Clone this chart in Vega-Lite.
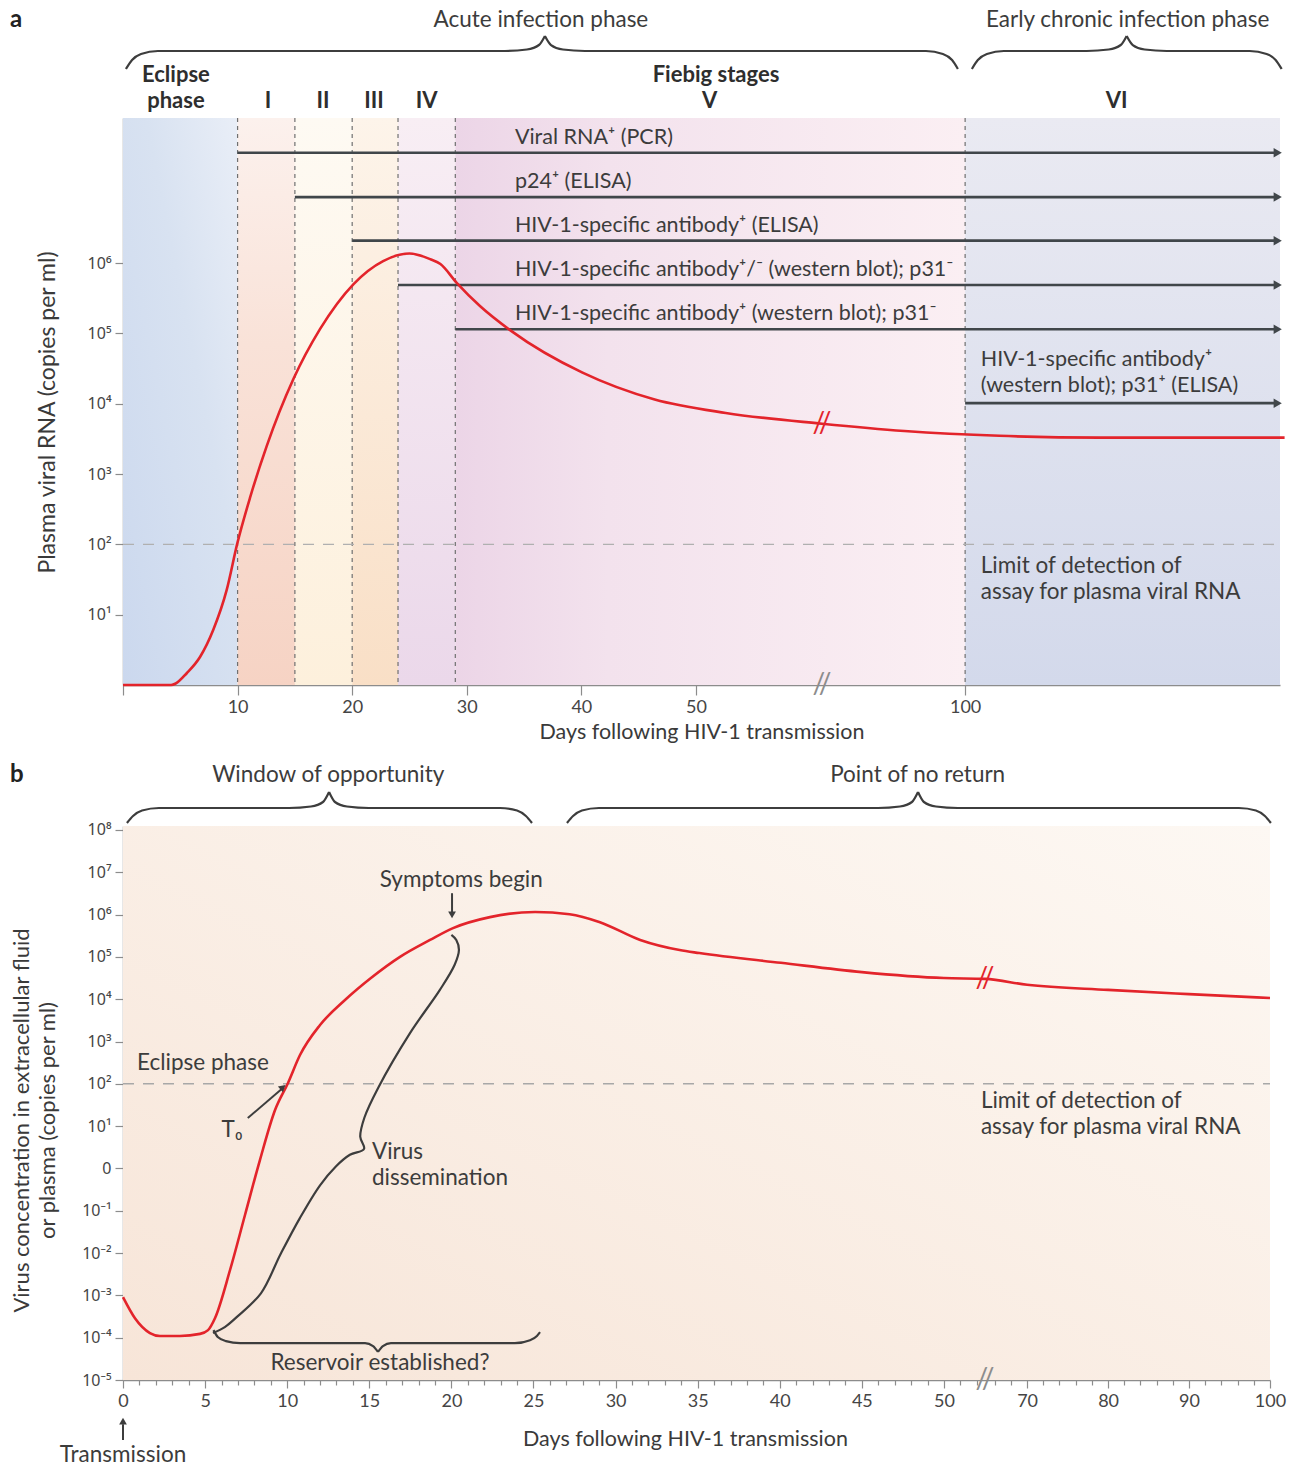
{
"$schema": "https://vega.github.io/schema/vega-lite/v6.json",
"background": "white",
"padding": {"left": 10, "top": 5, "right": 5, "bottom": 0},
"spacing": 0,
"bounds": "flush",
"resolve": {"scale": {"x": "independent", "y": "independent"}},
"config": {
  "view": {"stroke": null},
  "font": "Lato",
  "axis": {"grid": false, "domainColor": "#8c8c8c", "tickColor": "#8c8c8c", "labelColor": "#454545", "titleColor": "#3a3a3a", "labelFont": "Lato", "titleFont": "Lato", "titleFontWeight": "normal", "labelFontSize": 18, "titleFontSize": 21.5, "domainWidth": 1.4, "tickWidth": 1.2, "labelFlush": false},
  "text": {"font": "Lato", "color": "#3c3c3c", "fontSize": 22}
},
"datasets": {
  "bandsA": [{"b":"E","x":0,"x2":10},{"b":"I","x":10,"x2":15},{"b":"II","x":15,"x2":20},{"b":"III","x":20,"x2":24},{"b":"IV","x":24,"x2":29},{"b":"V","x":29,"x2":100},{"b":"VI","x":100,"x2":127.5}],
  "vlinesA": [{"x":10},{"x":15},{"x":20},{"x":24},{"x":29},{"x":100}],
  "detA": [{"d":0,"d2":127.5,"v":100}],
  "arrowsA": [
    {"x":10,"x2":127.3,"v":3.72e7,"lx":34.2,"ml":0,"t":"Viral RNA⁺ (PCR)"},
    {"x":15,"x2":127.3,"v":8.7e6,"lx":34.2,"ml":0,"t":"p24⁺ (ELISA)"},
    {"x":20,"x2":127.3,"v":2.09e6,"lx":34.2,"ml":0,"t":"HIV-1-specific antibody⁺ (ELISA)"},
    {"x":24,"x2":127.3,"v":4.9e5,"lx":34.2,"ml":0,"t":"HIV-1-specific antibody⁺/⁻ (western blot); p31⁻"},
    {"x":29,"x2":127.3,"v":1.15e5,"lx":34.2,"ml":0,"t":"HIV-1-specific antibody⁺ (western blot); p31⁻"},
    {"x":100,"x2":127.3,"v":1.02e4,"lx":101.37,"ml":1,"t":"HIV-1-specific antibody⁺\n(western blot); p31⁺ (ELISA)"}
  ],
  "curveA": [
    {"d":0,"v":1},{"d":4.2,"v":1},{"d":4.6,"v":1.05},{"d":5.56,"v":1.47},{"d":6.72,"v":2.5},{"d":7.88,"v":6.1},{"d":9.05,"v":22.5},{"d":9.98,"v":104},{"d":11.08,"v":458},{"d":12.54,"v":2500},{"d":14.86,"v":22300},{"d":17.19,"v":115000},{"d":20.1,"v":500000},{"d":22.7,"v":1070000},{"d":25.0,"v":1370000},{"d":26.8,"v":1140000},{"d":27.7,"v":970000},{"d":29.1,"v":530000},{"d":31.15,"v":246000},{"d":33.9,"v":108000},{"d":40.1,"v":27700},{"d":46.4,"v":11500},{"d":52.6,"v":7400},{"d":61,"v":5200},{"d":87.5,"v":5200},{"d":94.7,"v":4100},{"d":103.0,"v":3500},{"d":111.8,"v":3300},{"d":127.9,"v":3300}
  ],
  "breaksA": [{"d":61,"v":5200,"k":"c"},{"d":61,"v":1,"k":"a"}],
  "limitA": [{"d":101.37,"v":49.3,"t":"Limit of detection of\nassay for plasma viral RNA"}],
  "bracesA": [
    {"k":"A1L","x":0.26,"h":43.4},{"k":"A1L","x":0.79,"h":51.3},{"k":"A1L","x":1.57,"h":56.6},{"k":"A1L","x":3.05,"h":59.3},{"k":"A1L","x":33.33,"h":59.3},{"k":"A1L","x":35.25,"h":60.6},{"k":"A1L","x":36.3,"h":64.6},{"k":"A1L","x":36.82,"h":72.6},
    {"k":"A1R","x":36.82,"h":72.6},{"k":"A1R","x":37.35,"h":64.6},{"k":"A1R","x":38.39,"h":60.6},{"k":"A1R","x":40.31,"h":59.3},{"k":"A1R","x":96.58,"h":59.3},{"k":"A1R","x":98.06,"h":56.6},{"k":"A1R","x":98.86,"h":51.3},{"k":"A1R","x":99.37,"h":43.4},
    {"k":"A2L","x":100.59,"h":43.4},{"k":"A2L","x":101.11,"h":51.3},{"k":"A2L","x":101.9,"h":56.6},{"k":"A2L","x":103.38,"h":59.3},{"k":"A2L","x":110.62,"h":59.3},{"k":"A2L","x":112.54,"h":60.6},{"k":"A2L","x":113.59,"h":64.6},{"k":"A2L","x":114.11,"h":72.6},
    {"k":"A2R","x":114.11,"h":72.6},{"k":"A2R","x":114.64,"h":64.6},{"k":"A2R","x":115.68,"h":60.6},{"k":"A2R","x":117.6,"h":59.3},{"k":"A2R","x":124.85,"h":59.3},{"k":"A2R","x":126.33,"h":56.6},{"k":"A2R","x":127.12,"h":51.3},{"k":"A2R","x":127.64,"h":43.4}
  ],
  "textA": [
    {"t":"Acute infection phase","x":36.47,"h":86.7,"w":"n"},
    {"t":"Early chronic infection phase","x":114.2,"h":86.7,"w":"n"},
    {"t":"Eclipse\nphase","x":4.62,"h":38.1,"w":"b"},
    {"t":"I","x":12.65,"h":15,"w":"b"},
    {"t":"II","x":17.45,"h":15,"w":"b"},
    {"t":"III","x":21.9,"h":15,"w":"b"},
    {"t":"IV","x":26.5,"h":15,"w":"b"},
    {"t":"Fiebig stages","x":51.75,"h":38.1,"w":"b"},
    {"t":"V","x":51.2,"h":15,"w":"b"},
    {"t":"VI","x":113.24,"h":15,"w":"b"},
    {"t":"a","x":-9.86,"h":86.7,"w":"L"}
  ],
  "bracesB": [
    {"k":"B1L","x":0.24,"h":2.13},{"k":"B1L","x":0.61,"h":7.09},{"k":"B1L","x":1.16,"h":10.99},{"k":"B1L","x":2.19,"h":12.77},{"k":"B1L","x":10.11,"h":12.77},{"k":"B1L","x":11.45,"h":13.83},{"k":"B1L","x":12.18,"h":17.02},{"k":"B1L","x":12.55,"h":24.11},
    {"k":"B1R","x":12.55,"h":24.11},{"k":"B1R","x":12.91,"h":17.02},{"k":"B1R","x":13.64,"h":13.83},{"k":"B1R","x":14.98,"h":12.77},{"k":"B1R","x":22.96,"h":12.77},{"k":"B1R","x":24.0,"h":10.99},{"k":"B1R","x":24.54,"h":7.09},{"k":"B1R","x":24.91,"h":2.13},
    {"k":"B2L","x":27.04,"h":2.13},{"k":"B2L","x":27.41,"h":7.09},{"k":"B2L","x":27.95,"h":10.99},{"k":"B2L","x":28.99,"h":12.77},{"k":"B2L","x":45.98,"h":12.77},{"k":"B2L","x":47.32,"h":13.83},{"k":"B2L","x":48.05,"h":17.02},{"k":"B2L","x":48.42,"h":24.11},
    {"k":"B2R","x":48.42,"h":24.11},{"k":"B2R","x":48.78,"h":17.02},{"k":"B2R","x":49.51,"h":13.83},{"k":"B2R","x":50.85,"h":12.77},{"k":"B2R","x":96.16,"h":12.77},{"k":"B2R","x":98.26,"h":10.99},{"k":"B2R","x":99.37,"h":7.09},{"k":"B2R","x":100.11,"h":2.13}
  ],
  "textB": [
    {"t":"Window of opportunity","x":12.5,"h":36.17,"w":"n"},
    {"t":"Point of no return","x":48.4,"h":36.17,"w":"n"},
    {"t":"b","x":-6.88,"h":36.17,"w":"L"}
  ],
  "bgB": [{"d":0,"d2":100}],
  "detB": [{"d":0,"d2":100,"v":100}],
  "curveB": [
    {"d":0,"v":9.1e-4},{"d":0.73,"v":2.88e-4},{"d":1.64,"v":1.29e-4},{"d":2.25,"v":1.1e-4},{"d":3.47,"v":1.1e-4},{"d":4.69,"v":1.23e-4},{"d":5.18,"v":1.51e-4},{"d":5.6,"v":2.88e-4},{"d":6.52,"v":3.98e-3},{"d":7.43,"v":0.0794},{"d":8.34,"v":1.58},{"d":9.26,"v":24},{"d":10.05,"v":105},{"d":10.78,"v":479},{"d":12.0,"v":2455},{"d":13.52,"v":9550},{"d":15.1,"v":31600},{"d":16.87,"v":100000},{"d":18.7,"v":251000},{"d":20.1,"v":479000},{"d":22.35,"v":871000},{"d":25.1,"v":1150000},{"d":27.2,"v":1020000},{"d":29.05,"v":661000},{"d":31.5,"v":251000},{"d":33.9,"v":145000},{"d":35.1,"v":123000},{"d":40.07,"v":72400},{"d":45.0,"v":43700},{"d":50,"v":31600},{"d":52.5,"v":30200},{"d":64.8,"v":30200},{"d":70,"v":21900},{"d":80,"v":16600},{"d":90,"v":13200},{"d":100,"v":10700}
  ],
  "dissB": [
    {"i":1,"d":5.48,"v":1.29e-4},{"i":2,"d":6.2,"v":1.78e-4},{"i":3,"d":6.94,"v":3.1e-4},{"i":4,"d":8.4,"v":1.12e-3},{"i":5,"d":9.6,"v":0.0095},{"i":6,"d":10.78,"v":0.068},{"i":7,"d":12.0,"v":0.4},{"i":8,"d":12.95,"v":1.1},{"i":9,"d":13.82,"v":2.1},{"i":10,"d":14.68,"v":2.9},{"i":11,"d":14.45,"v":5.6},{"i":12,"d":14.7,"v":15.8},{"i":13,"d":15.53,"v":79},{"i":14,"d":17.48,"v":1580},{"i":15,"d":19.3,"v":16600},{"i":16,"d":20.2,"v":65000},{"i":17,"d":20.46,"v":145000},{"i":18,"d":20.3,"v":251000},{"i":19,"d":20.0,"v":331000}
  ],
  "resB": [
    {"k":"L","d":5.51,"v":1.51e-4},{"k":"L","d":5.79,"v":1.02e-4},{"k":"L","d":6.27,"v":8.3e-5},{"k":"L","d":7.13,"v":7.4e-5},{"k":"L","d":14.74,"v":7.4e-5},{"k":"L","d":15.23,"v":6.3e-5},{"k":"L","d":15.53,"v":4.6e-5},
    {"k":"R","d":15.53,"v":4.6e-5},{"k":"R","d":15.83,"v":6.3e-5},{"k":"R","d":16.32,"v":7.4e-5},{"k":"R","d":23.87,"v":7.4e-5},{"k":"R","d":24.79,"v":8.7e-5},{"k":"R","d":25.21,"v":1.1e-4},{"k":"R","d":25.4,"v":1.35e-4}
  ],
  "arrB": [
    {"d":20.04,"v":3.2e6,"d2":20.04,"v2":1.15e6},
    {"d":7.6,"v":15.5,"d2":9.7,"v2":78},
    {"d":0,"v":3.8e-7,"d2":0,"v2":9e-7}
  ],
  "headsB": [
    {"d":20.04,"v":9.8e5,"s":"triangle-down","a":0},
    {"d":9.74,"v":83,"s":"triangle-up","a":49},
    {"d":0,"v":1.07e-6,"s":"triangle-up","a":0}
  ],
  "labelsB": [
    {"t":"Symptoms begin","d":20.6,"v":6.6e6,"al":"c"},
    {"t":"Eclipse phase","d":4.87,"v":309,"al":"c"},
    {"t":"T₀","d":6.64,"v":8.1,"al":"c"},
    {"t":"Reservoir established?","d":15.65,"v":2.5e-5,"al":"c"},
    {"t":"Transmission","d":0,"v":1.66e-7,"al":"c"},
    {"t":"Virus\ndissemination","d":15.16,"v":2.44,"al":"l"},
    {"t":"Limit of detection of\nassay for plasma viral RNA","d":52.25,"v":39.2,"al":"l"}
  ],
  "breaksB": [{"d":52.5,"v":30200,"k":"c"},{"d":52.5,"v":1e-5,"k":"a"}]
},
"vconcat": [
  {
    "width": 1157, "height": 113,
    "layer": [
      {"data": {"name": "bracesA"}, "mark": {"type": "line", "interpolate": "monotone", "color": "#3d3d3d", "strokeWidth": 2.2},
       "encoding": {"x": {"field": "x", "type": "quantitative", "scale": {"domain": [0, 61, 87.5, 127.5], "range": [0, 699, 699, 1157], "nice": false, "zero": false}, "axis": null},
                    "y": {"field": "h", "type": "quantitative", "scale": {"domain": [0, 100], "nice": false, "zero": false}, "axis": null},
                    "detail": {"field": "k"}}},
      {"data": {"name": "textA"}, "transform": [{"filter": "datum.w == 'n'"}], "mark": {"type": "text", "fontSize": 22.5, "baseline": "middle", "color": "#3c3c3c"},
       "encoding": {"x": {"field": "x", "type": "quantitative", "axis": null}, "y": {"field": "h", "type": "quantitative", "axis": null}, "text": {"field": "t"}}},
      {"data": {"name": "textA"}, "transform": [{"filter": "datum.w == 'b'"}], "mark": {"type": "text", "fontSize": 22, "fontWeight": "bold", "baseline": "middle", "lineBreak": "\n", "lineHeight": 26, "color": "#2e2e2e"},
       "encoding": {"x": {"field": "x", "type": "quantitative", "axis": null}, "y": {"field": "h", "type": "quantitative", "axis": null}, "text": {"field": "t"}}},
      {"data": {"name": "textA"}, "transform": [{"filter": "datum.w == 'L'"}], "mark": {"type": "text", "fontSize": 24, "fontWeight": "bold", "align": "left", "baseline": "middle", "color": "#222222"},
       "encoding": {"x": {"field": "x", "type": "quantitative", "axis": null}, "y": {"field": "h", "type": "quantitative", "axis": null}, "text": {"field": "t"}}}
    ]
  },
  {
    "width": 1157, "height": 567,
    "resolve": {"axis": {"x": "independent", "y": "independent"}},
    "layer": [
      {"data": {"name": "bandsA"}, "transform": [{"filter": "datum.b == 'E'"}], "mark": {"type": "rect", "fill": {"gradient": "linear", "x1": 0, "y1": 1, "x2": 1, "y2": 0, "stops": [{"offset": 0, "color": "#cbd8ee"}, {"offset": 0.6, "color": "#d8e2f1"}, {"offset": 1, "color": "#e9eef7"}]}},
       "encoding": {"x": {"field": "x", "type": "quantitative", "scale": {"domain": [0, 61, 87.5, 127.5], "range": [0, 699, 699, 1157], "nice": false, "zero": false}, "axis": null}, "x2": {"field": "x2"}}},
      {"data": {"name": "bandsA"}, "transform": [{"filter": "datum.b == 'I'"}], "mark": {"type": "rect", "fill": {"gradient": "linear", "x1": 0, "y1": 0, "x2": 0, "y2": 1, "stops": [{"offset": 0, "color": "#fcf1ed"}, {"offset": 0.4, "color": "#f9e2d8"}, {"offset": 1, "color": "#f6d3c4"}]}},
       "encoding": {"x": {"field": "x", "type": "quantitative", "axis": null}, "x2": {"field": "x2"}}},
      {"data": {"name": "bandsA"}, "transform": [{"filter": "datum.b == 'II'"}], "mark": {"type": "rect", "fill": {"gradient": "linear", "x1": 0, "y1": 0, "x2": 0, "y2": 1, "stops": [{"offset": 0, "color": "#fefaf3"}, {"offset": 1, "color": "#fdf0dc"}]}},
       "encoding": {"x": {"field": "x", "type": "quantitative", "axis": null}, "x2": {"field": "x2"}}},
      {"data": {"name": "bandsA"}, "transform": [{"filter": "datum.b == 'III'"}], "mark": {"type": "rect", "fill": {"gradient": "linear", "x1": 0, "y1": 0, "x2": 0, "y2": 1, "stops": [{"offset": 0, "color": "#fdf4ea"}, {"offset": 1, "color": "#f9dfc6"}]}},
       "encoding": {"x": {"field": "x", "type": "quantitative", "axis": null}, "x2": {"field": "x2"}}},
      {"data": {"name": "bandsA"}, "transform": [{"filter": "datum.b == 'IV'"}], "mark": {"type": "rect", "fill": {"gradient": "linear", "x1": 0, "y1": 0, "x2": 0, "y2": 1, "stops": [{"offset": 0, "color": "#f8eef4"}, {"offset": 1, "color": "#ebd8ea"}]}},
       "encoding": {"x": {"field": "x", "type": "quantitative", "axis": null}, "x2": {"field": "x2"}}},
      {"data": {"name": "bandsA"}, "transform": [{"filter": "datum.b == 'V'"}], "mark": {"type": "rect", "fill": {"gradient": "linear", "x1": 0, "y1": 0, "x2": 1, "y2": 0, "stops": [{"offset": 0, "color": "#ecd5e7"}, {"offset": 0.3, "color": "#f3e2ed"}, {"offset": 1, "color": "#fbeff3"}]}},
       "encoding": {"x": {"field": "x", "type": "quantitative", "axis": null}, "x2": {"field": "x2"}}},
      {"data": {"name": "bandsA"}, "transform": [{"filter": "datum.b == 'VI'"}], "mark": {"type": "rect", "fill": {"gradient": "linear", "x1": 0, "y1": 0, "x2": 0, "y2": 1, "stops": [{"offset": 0, "color": "#eaeaf2"}, {"offset": 1, "color": "#d3d9eb"}]}},
       "encoding": {"x": {"field": "x", "type": "quantitative", "axis": null}, "x2": {"field": "x2"}}},
      {"data": {"name": "vlinesA"}, "mark": {"type": "rule", "color": "#707070", "strokeDash": [4, 4], "strokeWidth": 1.2},
       "encoding": {"x": {"field": "x", "type": "quantitative", "axis": null}}},
      {"data": {"name": "detA"}, "mark": {"type": "rule", "color": "#b0b0b0", "strokeDash": [11, 9], "strokeWidth": 1.4},
       "encoding": {"x": {"field": "d", "type": "quantitative", "axis": null}, "x2": {"field": "d2"}, "y": {"field": "v", "type": "quantitative", "axis": null}}},
      {"data": {"name": "arrowsA"}, "mark": {"type": "rule", "color": "#40464a", "strokeWidth": 2.6},
       "encoding": {"x": {"field": "x", "type": "quantitative", "axis": null}, "x2": {"field": "x2"}, "y": {"field": "v", "type": "quantitative", "axis": null}}},
      {"data": {"name": "arrowsA"}, "mark": {"type": "point", "shape": "triangle-right", "filled": true, "size": 90, "color": "#40464a", "opacity": 1},
       "encoding": {"x": {"field": "x2", "type": "quantitative", "axis": null}, "y": {"field": "v", "type": "quantitative", "axis": null}}},
      {"data": {"name": "arrowsA"}, "transform": [{"filter": "datum.ml == 0"}], "mark": {"type": "text", "align": "left", "baseline": "bottom", "dy": -4, "fontSize": 21.5, "color": "#3c3c3c"},
       "encoding": {"x": {"field": "lx", "type": "quantitative", "axis": null}, "y": {"field": "v", "type": "quantitative", "axis": null}, "text": {"field": "t"}}},
      {"data": {"name": "arrowsA"}, "transform": [{"filter": "datum.ml == 1"}], "mark": {"type": "text", "align": "left", "baseline": "bottom", "dy": -32, "fontSize": 21.5, "lineBreak": "\n", "lineHeight": 26, "color": "#3c3c3c"},
       "encoding": {"x": {"field": "lx", "type": "quantitative", "axis": null}, "y": {"field": "v", "type": "quantitative", "axis": null}, "text": {"field": "t"}}},
      {"data": {"name": "limitA"}, "mark": {"type": "text", "align": "left", "baseline": "middle", "fontSize": 22.5, "lineBreak": "\n", "lineHeight": 26, "color": "#3c3c3c"},
       "encoding": {"x": {"field": "d", "type": "quantitative", "axis": null}, "y": {"field": "v", "type": "quantitative", "axis": null}, "text": {"field": "t"}}},
      {"data": {"name": "curveA"}, "mark": {"type": "line", "interpolate": "monotone", "color": "#e3242b", "strokeWidth": 2.6},
       "encoding": {
         "x": {"field": "d", "type": "quantitative", "scale": {"domain": [0, 61, 87.5, 127.5], "range": [0, 699, 699, 1157], "nice": false, "zero": false},
               "axis": {"orient": "bottom", "values": [0, 10, 20, 30, 40, 50, 100], "labelExpr": "datum.value == 0 ? '' : datum.label", "title": "Days following HIV-1 transmission", "tickSize": 10, "labelPadding": 3, "titlePadding": 5}},
         "y": {"field": "v", "type": "quantitative", "scale": {"type": "log", "domain": [1, 1.16e8], "nice": false},
               "axis": {"orient": "left", "values": [10, 100, 1000, 10000, 100000, 1000000], "labelFont": "Noto Sans", "labelFontSize": 16, "labelExpr": "'10' + ['⁰','¹','²','³','⁴','⁵','⁶'][round(log(datum.value)/LN10)]", "title": "Plasma viral RNA (copies per ml)", "titleFontSize": 23, "tickSize": 8, "labelPadding": 4, "titleX": -76, "titleY": 294, "titleAngle": -90, "titleAlign": "center", "titleBaseline": "middle"}}
       }},
      {"data": {"name": "breaksA"}, "transform": [{"filter": "datum.k == 'c'"}], "mark": {"type": "text", "text": "//", "fontSize": 28, "color": "#e3242b", "baseline": "middle"},
       "encoding": {"x": {"field": "d", "type": "quantitative", "axis": null}, "y": {"field": "v", "type": "quantitative", "axis": null}}},
      {"data": {"name": "breaksA"}, "transform": [{"filter": "datum.k == 'a'"}], "mark": {"type": "text", "text": "//", "fontSize": 28, "color": "#8c8c8c", "baseline": "middle"},
       "encoding": {"x": {"field": "d", "type": "quantitative", "axis": null}, "y": {"field": "v", "type": "quantitative", "axis": null}}}
    ]
  },
  {
    "width": 1147, "height": 141,
    "layer": [
      {"data": {"name": "bracesB"}, "mark": {"type": "line", "interpolate": "monotone", "color": "#3d3d3d", "strokeWidth": 2.2},
       "encoding": {"x": {"field": "x", "type": "quantitative", "scale": {"domain": [0, 52.5, 64.8, 100], "range": [0, 862, 862, 1147], "nice": false, "zero": false}, "axis": null},
                    "y": {"field": "h", "type": "quantitative", "scale": {"domain": [0, 100], "nice": false, "zero": false}, "axis": null},
                    "detail": {"field": "k"}}},
      {"data": {"name": "textB"}, "transform": [{"filter": "datum.w == 'n'"}], "mark": {"type": "text", "fontSize": 22.5, "baseline": "middle", "color": "#3c3c3c"},
       "encoding": {"x": {"field": "x", "type": "quantitative", "axis": null}, "y": {"field": "h", "type": "quantitative", "axis": null}, "text": {"field": "t"}}},
      {"data": {"name": "textB"}, "transform": [{"filter": "datum.w == 'L'"}], "mark": {"type": "text", "fontSize": 24, "fontWeight": "bold", "align": "left", "baseline": "middle", "color": "#222222"},
       "encoding": {"x": {"field": "x", "type": "quantitative", "axis": null}, "y": {"field": "h", "type": "quantitative", "axis": null}, "text": {"field": "t"}}}
    ]
  },
  {
    "width": 1147, "height": 554,
    "resolve": {"axis": {"x": "independent", "y": "independent"}},
    "layer": [
      {"data": {"name": "bgB"}, "mark": {"type": "rect", "fill": {"gradient": "linear", "x1": 0, "y1": 1, "x2": 1, "y2": 0, "stops": [{"offset": 0, "color": "#f7e5d8"}, {"offset": 1, "color": "#fdf8f3"}]}},
       "encoding": {"x": {"field": "d", "type": "quantitative", "scale": {"domain": [0, 52.5, 64.8, 100], "range": [0, 862, 862, 1147], "nice": false, "zero": false},
                          "axis": {"orient": "bottom", "values": [1,2,3,4,6,7,8,9,11,12,13,14,16,17,18,19,21,22,23,24,26,27,28,29,31,32,33,34,36,37,38,39,41,42,43,44,46,47,48,49,51,52,66,68,72,74,76,78,82,84,86,88,92,94,96,98], "labels": false, "domain": false, "tickSize": 5, "title": null}},
                    "x2": {"field": "d2"}}},
      {"data": {"name": "detB"}, "mark": {"type": "rule", "color": "#a8a8a8", "strokeDash": [11, 9], "strokeWidth": 1.4},
       "encoding": {"x": {"field": "d", "type": "quantitative", "axis": null}, "x2": {"field": "d2"}, "y": {"field": "v", "type": "quantitative", "axis": null}}},
      {"data": {"name": "resB"}, "mark": {"type": "line", "interpolate": "monotone", "color": "#3d3d3d", "strokeWidth": 2.2},
       "encoding": {"x": {"field": "d", "type": "quantitative", "axis": null}, "y": {"field": "v", "type": "quantitative", "axis": null}, "detail": {"field": "k"}}},
      {"data": {"name": "dissB"}, "mark": {"type": "line", "interpolate": "catmull-rom", "color": "#3d3d3d", "strokeWidth": 2.2},
       "encoding": {"x": {"field": "d", "type": "quantitative", "axis": null}, "y": {"field": "v", "type": "quantitative", "axis": null}, "order": {"field": "i", "type": "quantitative"}}},
      {"data": {"name": "curveB"}, "mark": {"type": "line", "interpolate": "monotone", "color": "#e3242b", "strokeWidth": 2.6},
       "encoding": {
         "x": {"field": "d", "type": "quantitative", "scale": {"domain": [0, 52.5, 64.8, 100], "range": [0, 862, 862, 1147], "nice": false, "zero": false},
               "axis": {"orient": "bottom", "values": [0, 5, 10, 15, 20, 25, 30, 35, 40, 45, 50, 70, 80, 90, 100], "title": "Days following HIV-1 transmission", "tickSize": 8, "labelPadding": 4, "titlePadding": 18, "titleX": 562}},
         "y": {"field": "v", "type": "quantitative", "scale": {"type": "log", "domain": [1e-5, 1.24e8], "nice": false},
               "axis": {"orient": "left", "values": [1e-5, 1e-4, 1e-3, 1e-2, 1e-1, 1, 10, 100, 1000, 10000, 100000, 1000000, 10000000, 100000000], "labelFont": "Noto Sans", "labelFontSize": 16, "labelExpr": "datum.value == 1 ? '0' : '10' + ['⁻⁵','⁻⁴','⁻³','⁻²','⁻¹','','¹','²','³','⁴','⁵','⁶','⁷','⁸'][round(log(datum.value)/LN10) + 5]", "title": ["Virus concentration in extracellular fluid", "or plasma (copies per ml)"], "titleFontSize": 22, "titleLineHeight": 26, "tickSize": 8, "labelPadding": 4, "titleX": -102, "titleY": 294, "titleAngle": -90, "titleAlign": "center", "titleBaseline": "middle"}}
       }},
      {"data": {"name": "arrB"}, "mark": {"type": "rule", "color": "#3d3d3d", "strokeWidth": 2},
       "encoding": {"x": {"field": "d", "type": "quantitative", "axis": null}, "x2": {"field": "d2"}, "y": {"field": "v", "type": "quantitative", "axis": null}, "y2": {"field": "v2"}}},
      {"data": {"name": "headsB"}, "mark": {"type": "point", "filled": true, "size": 60, "color": "#3d3d3d", "opacity": 1},
       "encoding": {"x": {"field": "d", "type": "quantitative", "axis": null}, "y": {"field": "v", "type": "quantitative", "axis": null}, "shape": {"field": "s", "type": "nominal", "scale": null}, "angle": {"field": "a", "type": "quantitative", "scale": null}}},
      {"data": {"name": "labelsB"}, "transform": [{"filter": "datum.al == 'c'"}], "mark": {"type": "text", "align": "center", "baseline": "middle", "fontSize": 22.5, "lineBreak": "\n", "lineHeight": 26, "color": "#3c3c3c"},
       "encoding": {"x": {"field": "d", "type": "quantitative", "axis": null}, "y": {"field": "v", "type": "quantitative", "axis": null}, "text": {"field": "t"}}},
      {"data": {"name": "labelsB"}, "transform": [{"filter": "datum.al == 'l'"}], "mark": {"type": "text", "align": "left", "baseline": "middle", "fontSize": 22.5, "lineBreak": "\n", "lineHeight": 26, "color": "#3c3c3c"},
       "encoding": {"x": {"field": "d", "type": "quantitative", "axis": null}, "y": {"field": "v", "type": "quantitative", "axis": null}, "text": {"field": "t"}}},
      {"data": {"name": "breaksB"}, "transform": [{"filter": "datum.k == 'c'"}], "mark": {"type": "text", "text": "//", "fontSize": 28, "color": "#e3242b", "baseline": "middle"},
       "encoding": {"x": {"field": "d", "type": "quantitative", "axis": null}, "y": {"field": "v", "type": "quantitative", "axis": null}}},
      {"data": {"name": "breaksB"}, "transform": [{"filter": "datum.k == 'a'"}], "mark": {"type": "text", "text": "//", "fontSize": 28, "color": "#8c8c8c", "baseline": "middle"},
       "encoding": {"x": {"field": "d", "type": "quantitative", "axis": null}, "y": {"field": "v", "type": "quantitative", "axis": null}}}
    ]
  }
]
}
